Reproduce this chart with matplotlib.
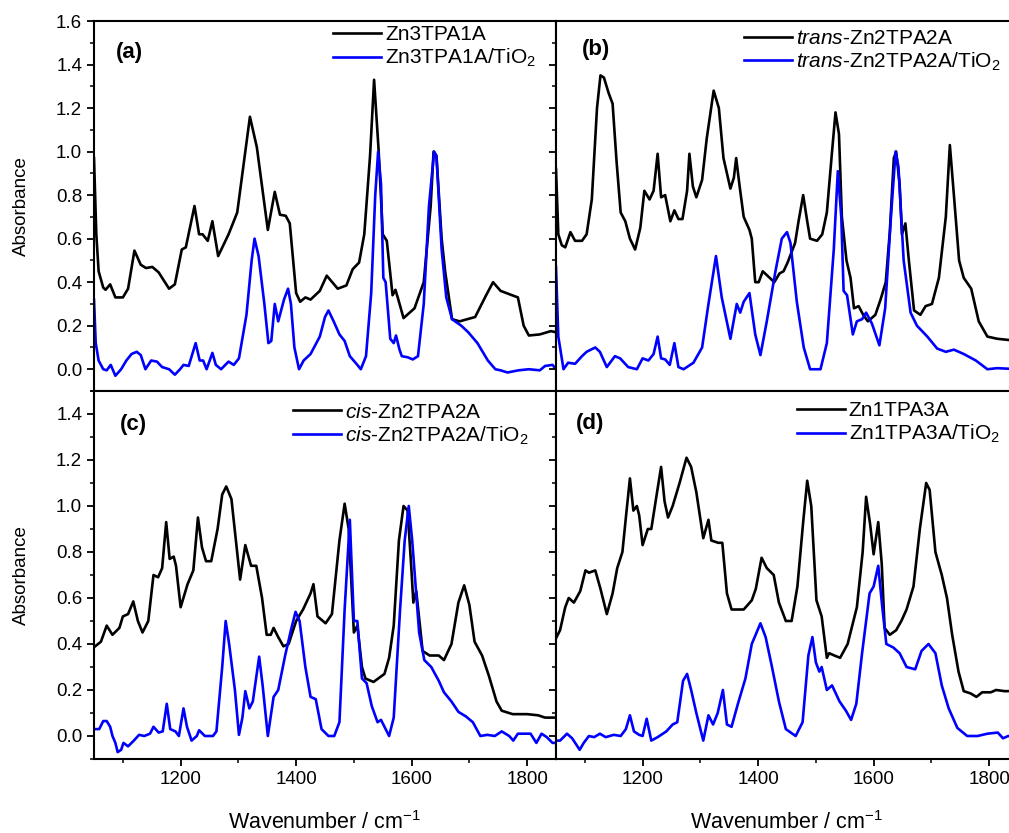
import matplotlib
matplotlib.use("Agg")
import matplotlib.pyplot as plt
from matplotlib.ticker import MultipleLocator

plt.rcParams["font.family"] = ["Liberation Sans", "DejaVu Sans"]
plt.rcParams["mathtext.fontset"] = "custom"
plt.rcParams["mathtext.rm"] = "Liberation Sans"
plt.rcParams["mathtext.it"] = "Liberation Sans:italic"
plt.rcParams["mathtext.bf"] = "Liberation Sans:bold"

# ---- (a) Zn3TPA1A ----
a_wn_film = [1050, 1054, 1058, 1066, 1070, 1078, 1087, 1100, 1109, 1120, 1131, 1140, 1151, 1162,
             1180, 1190, 1202, 1209, 1224, 1232, 1238, 1247, 1255, 1265, 1283, 1298, 1320, 1332,
             1351, 1363, 1372, 1382, 1389, 1400, 1407, 1416, 1425, 1441, 1453, 1472, 1487, 1498,
             1509, 1518, 1528, 1535, 1543, 1550, 1557, 1567, 1572, 1577, 1586, 1605, 1621, 1633,
             1638, 1643, 1652, 1658, 1670, 1683, 1710, 1729, 1741, 1754, 1769, 1784, 1794, 1803,
             1822, 1841, 1850]
a_abs_film = [0.97, 0.62, 0.45, 0.375, 0.365, 0.39, 0.33, 0.33, 0.37, 0.545, 0.48, 0.465, 0.47, 0.445,
              0.37, 0.39, 0.55, 0.56, 0.75, 0.62, 0.62, 0.59, 0.68, 0.52, 0.62, 0.72, 1.16, 1.02,
              0.64, 0.815, 0.71, 0.705, 0.67, 0.35, 0.31, 0.33, 0.32, 0.36, 0.43, 0.37, 0.385, 0.46,
              0.49, 0.62, 0.98, 1.33, 1.0, 0.62, 0.59, 0.34, 0.365, 0.32, 0.235, 0.28, 0.40, 0.75,
              1.0, 0.98, 0.6, 0.45, 0.23, 0.22, 0.24, 0.34, 0.40, 0.36, 0.345, 0.33, 0.20, 0.155,
              0.16, 0.175, 0.17]
a_wn_tio2 = [1050, 1053, 1058, 1066, 1072, 1079, 1087, 1097, 1106, 1115, 1124, 1131, 1139, 1149,
             1159, 1168, 1180, 1190, 1199, 1205, 1214, 1226, 1233, 1239, 1245, 1255, 1261, 1270,
             1283, 1292, 1301, 1314, 1323, 1328, 1335, 1345, 1352, 1357, 1363, 1369, 1379, 1386,
             1391, 1397, 1405, 1413, 1425, 1441, 1450, 1456, 1465, 1475, 1484, 1493, 1506, 1512,
             1521, 1530, 1537, 1542, 1547, 1551, 1555, 1563, 1569, 1573, 1579, 1583, 1593, 1602,
             1611, 1621, 1630, 1639, 1643, 1652, 1660, 1670, 1686, 1698, 1714, 1732, 1745, 1754,
             1766, 1785, 1803, 1822, 1831, 1844, 1850]
a_abs_tio2 = [0.32, 0.12, 0.04, 0.0, -0.005, 0.02, -0.03, 0.0, 0.04, 0.07, 0.08, 0.065, 0.0, 0.04,
              0.035, 0.01, 0.0, -0.025, 0.0, 0.02, 0.015, 0.12, 0.04, 0.04, 0.0, 0.075, 0.02, 0.0,
              0.035, 0.02, 0.05, 0.25, 0.5, 0.6, 0.52, 0.3, 0.12, 0.13, 0.30, 0.22, 0.32, 0.37,
              0.30, 0.1, 0.0, 0.04, 0.07, 0.15, 0.24, 0.27, 0.22, 0.16, 0.13, 0.06, 0.02, 0.0,
              0.06, 0.35, 0.8, 1.0, 0.85, 0.42, 0.40, 0.14, 0.12, 0.155, 0.09, 0.06, 0.055, 0.045,
              0.06, 0.30, 0.75, 1.0, 0.98, 0.55, 0.33, 0.23, 0.2, 0.17, 0.12, 0.04, 0.0, -0.005,
              -0.015, -0.005, 0.0, -0.005, 0.015, 0.02, 0.0]

# ---- (b) trans-Zn2TPA2A ----
b_wn_film = [1050, 1054, 1060, 1066, 1075, 1083, 1095, 1103, 1112, 1121, 1127, 1133, 1141, 1148,
             1155, 1162, 1170, 1178, 1187, 1196, 1203, 1212, 1219, 1226, 1232, 1239, 1248, 1255,
             1262, 1269, 1277, 1281, 1287, 1293, 1303, 1311, 1323, 1332, 1340, 1352, 1358, 1362,
             1368, 1375, 1385, 1389, 1395, 1401, 1408, 1416, 1428, 1437, 1444, 1451, 1464, 1470,
             1478, 1485, 1490, 1502, 1511, 1519, 1528, 1534, 1540, 1545, 1553, 1560, 1566, 1574,
             1582, 1590, 1603, 1612, 1621, 1628, 1635, 1639, 1645, 1649, 1655, 1661, 1670, 1681,
             1690, 1701, 1713, 1725, 1732, 1739, 1748, 1756, 1769, 1782, 1797, 1814, 1850]
b_abs_film = [0.92, 0.62, 0.57, 0.56, 0.63, 0.59, 0.59, 0.62, 0.78, 1.20, 1.35, 1.34, 1.27, 1.22,
              0.95, 0.72, 0.68, 0.60, 0.55, 0.65, 0.82, 0.78, 0.82, 0.99, 0.79, 0.80, 0.68, 0.73,
              0.69, 0.69, 0.82, 0.99, 0.84, 0.79, 0.87, 1.06, 1.28, 1.20, 0.97, 0.83, 0.88, 0.97,
              0.84, 0.70, 0.64, 0.60, 0.40, 0.40, 0.45, 0.43, 0.40, 0.44, 0.45, 0.49, 0.58, 0.68,
              0.80, 0.68, 0.60, 0.59, 0.62, 0.72, 1.0, 1.18, 1.08, 0.70, 0.50, 0.42, 0.28, 0.29,
              0.25, 0.22, 0.25, 0.32, 0.40, 0.63, 0.97, 1.0, 0.85, 0.62, 0.67, 0.50, 0.27, 0.25,
              0.29, 0.30, 0.42, 0.70, 1.03, 0.80, 0.50, 0.42, 0.37, 0.22, 0.15, 0.14, 0.13]
b_wn_tio2 = [1050, 1054, 1063, 1071, 1083, 1095, 1103, 1118, 1126, 1138, 1152, 1161, 1175, 1190,
             1200, 1210, 1219, 1226, 1232, 1239, 1247, 1255, 1262, 1271, 1288, 1303, 1314, 1327,
             1337, 1352, 1363, 1369, 1375, 1385, 1395, 1404, 1415, 1430, 1441, 1450, 1456, 1467,
             1479, 1490, 1508, 1519, 1531, 1538, 1544, 1548, 1554, 1564, 1571, 1580, 1587, 1597,
             1610, 1620, 1630, 1638, 1643, 1652, 1664, 1675, 1693, 1710, 1725, 1739, 1756, 1777,
             1797, 1814, 1850]
b_abs_tio2 = [0.47, 0.15, 0.0, 0.03, 0.025, 0.06, 0.08, 0.10, 0.08, 0.01, 0.06, 0.05, 0.01, 0.0,
              0.05, 0.04, 0.07, 0.15, 0.05, 0.045, 0.02, 0.12, 0.01, 0.0, 0.03, 0.10, 0.30, 0.52,
              0.33, 0.14, 0.30, 0.26, 0.31, 0.35, 0.16, 0.065, 0.22, 0.45, 0.60, 0.63, 0.58, 0.31,
              0.10, 0.0, 0.0, 0.12, 0.55, 0.91, 0.70, 0.36, 0.34, 0.16, 0.22, 0.23, 0.26, 0.21,
              0.11, 0.28, 0.70, 1.0, 0.93, 0.50, 0.26, 0.20, 0.15, 0.095, 0.08, 0.09, 0.07, 0.04,
              0.0, 0.005, 0.0]

# ---- (c) cis-Zn2TPA2A ----
c_wn_film = [1047, 1062, 1072, 1082, 1094, 1100, 1109, 1118, 1126, 1134, 1144, 1153, 1161, 1168,
             1175, 1181, 1188, 1192, 1200, 1212, 1222, 1230, 1237, 1244, 1253, 1264, 1272, 1279,
             1288, 1297, 1303, 1312, 1322, 1331, 1341, 1349, 1356, 1361, 1369, 1378, 1387, 1400,
             1412, 1425, 1430, 1437, 1451, 1462, 1475, 1484, 1491, 1500, 1506, 1514, 1520, 1534,
             1553, 1561, 1569, 1578, 1586, 1593, 1599, 1603, 1608, 1619, 1631, 1647, 1656, 1669,
             1681, 1691, 1700, 1709, 1722, 1734, 1747, 1756, 1775, 1800, 1819, 1831, 1853]
c_abs_film = [0.38, 0.41, 0.48, 0.44, 0.47, 0.52, 0.53, 0.585, 0.5, 0.45, 0.50, 0.70, 0.69, 0.73,
              0.93, 0.77, 0.78, 0.74, 0.56, 0.66, 0.72, 0.95, 0.82, 0.76, 0.76, 0.9, 1.05, 1.085,
              1.03, 0.82, 0.68, 0.83, 0.74, 0.74, 0.60, 0.44, 0.44, 0.47, 0.43, 0.39, 0.40, 0.50,
              0.55, 0.62, 0.66, 0.52, 0.49, 0.53, 0.85, 1.01, 0.90, 0.45, 0.48, 0.30, 0.25, 0.235,
              0.27, 0.34, 0.48, 0.85, 1.0, 0.98, 0.75, 0.58, 0.63, 0.37, 0.35, 0.35, 0.33, 0.40,
              0.58, 0.655, 0.57, 0.41, 0.35, 0.26, 0.15, 0.11, 0.095, 0.095, 0.09, 0.08, 0.08]
c_wn_tio2 = [1047, 1059, 1066, 1072, 1078, 1082, 1087, 1091, 1097, 1101, 1109, 1119, 1128, 1137,
             1147, 1153, 1162, 1169, 1176, 1182, 1191, 1197, 1205, 1211, 1219, 1228, 1232, 1242,
             1256, 1262, 1272, 1278, 1284, 1294, 1301, 1307, 1312, 1319, 1325, 1336, 1342, 1351,
             1361, 1369, 1381, 1391, 1399, 1406, 1416, 1425, 1434, 1444, 1456, 1466, 1475, 1484,
             1493, 1500, 1506, 1514, 1522, 1531, 1541, 1547, 1561, 1569, 1580, 1588, 1595, 1601,
             1613, 1622, 1634, 1647, 1656, 1669, 1681, 1694, 1706, 1719, 1731, 1744, 1756, 1769,
             1776, 1784, 1806, 1816, 1825, 1834, 1844, 1853]
c_abs_tio2 = [0.03, 0.03, 0.065, 0.065, 0.04, 0.0, -0.03, -0.07, -0.06, -0.03, -0.045, -0.02, 0.005, 0.0,
              0.01, 0.04, 0.015, 0.02, 0.14, 0.03, 0.02, 0.0, 0.12, 0.04, -0.02, 0.0, 0.025, 0.0,
              0.0, 0.02, 0.3, 0.50, 0.40, 0.20, 0.005, 0.08, 0.195, 0.12, 0.15, 0.345, 0.22, 0.0,
              0.17, 0.20, 0.35, 0.46, 0.54, 0.50, 0.30, 0.17, 0.16, 0.03, 0.0, 0.0, 0.06, 0.55,
              0.94, 0.50, 0.50, 0.25, 0.23, 0.13, 0.06, 0.07, 0.0, 0.08, 0.55, 0.85, 1.0, 0.85,
              0.45, 0.33, 0.30, 0.24, 0.19, 0.15, 0.105, 0.085, 0.06, 0.0, 0.005, 0.0, 0.02, 0.0,
              -0.02, 0.01, 0.01, -0.03, 0.01, -0.005, -0.03, -0.03]

# ---- (d) Zn1TPA3A ----
d_wn_film = [1049, 1057, 1066, 1072, 1081, 1092, 1101, 1107, 1118, 1127, 1138, 1148, 1156, 1165,
             1171, 1178, 1184, 1190, 1194, 1200, 1209, 1215, 1225, 1232, 1238, 1244, 1252, 1264,
             1276, 1284, 1293, 1305, 1314, 1319, 1331, 1338, 1346, 1354, 1363, 1375, 1389, 1396,
             1406, 1415, 1427, 1436, 1448, 1458, 1468, 1478, 1485, 1492, 1501, 1510, 1519, 1523,
             1532, 1542, 1555, 1564, 1571, 1581, 1587, 1594, 1600, 1608, 1614, 1619, 1628, 1639,
             1648, 1657, 1669, 1680, 1691, 1697, 1707, 1718, 1727, 1736, 1747, 1756, 1768, 1778,
             1788, 1803, 1812, 1827, 1850]
d_abs_film = [0.42, 0.46, 0.56, 0.60, 0.58, 0.63, 0.72, 0.71, 0.72, 0.64, 0.53, 0.62, 0.73, 0.80,
              0.95, 1.12, 0.98, 1.0, 0.96, 0.83, 0.90, 0.90, 1.06, 1.17, 1.02, 0.95, 1.0, 1.10,
              1.21, 1.17, 1.06, 0.86, 0.94, 0.85, 0.84, 0.84, 0.62, 0.55, 0.55, 0.55, 0.59, 0.64,
              0.775, 0.73, 0.70, 0.58, 0.50, 0.50, 0.65, 0.93, 1.11, 1.0, 0.59, 0.52, 0.34, 0.36,
              0.35, 0.34, 0.40, 0.49, 0.56, 0.80, 1.04, 0.92, 0.79, 0.93, 0.75, 0.47, 0.44, 0.46,
              0.50, 0.55, 0.65, 0.90, 1.10, 1.07, 0.80, 0.70, 0.60, 0.44, 0.28, 0.195, 0.185, 0.17,
              0.19, 0.19, 0.20, 0.195, 0.195]
d_wn_tio2 = [1049, 1057, 1069, 1078, 1091, 1098, 1107, 1116, 1126, 1136, 1150, 1162, 1171, 1178,
             1185, 1194, 1200, 1207, 1215, 1226, 1241, 1252, 1260, 1270, 1277, 1284, 1293, 1305,
             1314, 1322, 1330, 1339, 1346, 1354, 1365, 1378, 1389, 1404, 1413, 1424, 1436, 1448,
             1465, 1477, 1487, 1494, 1500, 1506, 1510, 1519, 1528, 1541, 1552, 1561, 1570, 1580,
             1593, 1600, 1608, 1615, 1622, 1634, 1645, 1657, 1672, 1683, 1695, 1707, 1718, 1730,
             1745, 1762, 1780, 1797, 1815, 1824, 1833, 1850]
d_abs_tio2 = [-0.02, -0.02, 0.01, -0.01, -0.06, -0.03, 0.0, -0.005, 0.01, -0.005, 0.005, 0.0, 0.03, 0.09,
              0.02, 0.005, 0.0, 0.075, -0.02, -0.005, 0.02, 0.05, 0.06, 0.24, 0.27, 0.20, 0.10, -0.02,
              0.09, 0.05, 0.10, 0.20, 0.05, 0.04, 0.14, 0.25, 0.40, 0.49, 0.43, 0.30, 0.15, 0.03,
              0.0, 0.06, 0.35, 0.43, 0.32, 0.28, 0.30, 0.20, 0.22, 0.15, 0.11, 0.07, 0.14, 0.36,
              0.62, 0.65, 0.74, 0.56, 0.40, 0.385, 0.36, 0.30, 0.29, 0.37, 0.40, 0.36, 0.22, 0.12,
              0.035, 0.0, 0.0, 0.01, 0.015, -0.01, 0.0, -0.01]

panels = [
    ("(a)", "Zn3TPA1A", "Zn3TPA1A/TiO$_2$",
     a_wn_film, a_abs_film, a_wn_tio2, a_abs_tio2),
    ("(b)", r"$\mathit{trans}$-Zn2TPA2A", r"$\mathit{trans}$-Zn2TPA2A/TiO$_2$",
     b_wn_film, b_abs_film, b_wn_tio2, b_abs_tio2),
    ("(c)", r"$\mathit{cis}$-Zn2TPA2A", r"$\mathit{cis}$-Zn2TPA2A/TiO$_2$",
     c_wn_film, c_abs_film, c_wn_tio2, c_abs_tio2),
    ("(d)", "Zn1TPA3A", "Zn1TPA3A/TiO$_2$",
     d_wn_film, d_abs_film, d_wn_tio2, d_abs_tio2),
]

W, H = 1009, 833
fig = plt.figure(figsize=(W / 100, H / 100), dpi=100)

pw = 462 / W
lefts = [94 / W, 556 / W]
rows = [(1 - 391 / H, 370 / H), (1 - 759 / H, 368 / H)]
legend_pos = [(0.517, 0.988), (0.407, 0.978), (0.43, 0.968), (0.521, 0.972)]
tag_pos = [(0.048, 0.914), (0.055, 0.922), (0.055, 0.908), (0.043, 0.913)]

for i, (tag, lab1, lab2, x1, y1, x2, y2) in enumerate(panels):
    r, c = divmod(i, 2)
    bottom, height = rows[r]
    ax = fig.add_axes([lefts[c], bottom, pw, height])
    ax.plot(x1, y1, color="black", lw=1.9, label=lab1)
    ax.plot(x2, y2, color="#0000ff", lw=1.9, label=lab2)
    ax.set_xlim(1050, 1850)
    if r == 0:
        ax.set_ylim(-0.1, 1.6)
    else:
        ax.set_ylim(-0.1, 1.5)
    ax.xaxis.set_major_locator(MultipleLocator(200))
    ax.xaxis.set_minor_locator(MultipleLocator(100))
    ax.yaxis.set_major_locator(MultipleLocator(0.2))
    ax.yaxis.set_minor_locator(MultipleLocator(0.1))
    ax.tick_params(which="major", direction="out", length=5, width=1.3, labelsize=13.5)
    ax.tick_params(which="minor", direction="out", length=3, width=1.1)
    for s in ax.spines.values():
        s.set_linewidth(1.5)
    if c == 1:
        ax.tick_params(labelleft=False)
    else:
        ax.set_ylabel("Absorbance", fontsize=13.5, va="center")
        ax.yaxis.set_label_coords(-73 / 462, 0.5)
    if r == 0:
        ax.tick_params(labelbottom=False)
    else:
        ax.set_xlabel("Wavenumber / cm$^{-1}$", fontsize=15.5, va="baseline")
        ax.xaxis.set_label_coords(0.5, -(829 - 759) / 368)
    ax.text(tag_pos[i][0], tag_pos[i][1], tag, transform=ax.transAxes, fontsize=16,
            fontweight="bold", va="center", ha="left")
    ax.legend(loc="upper left", bbox_to_anchor=legend_pos[i],
              frameon=False, fontsize=15, handlelength=2.3, handletextpad=0.2,
              labelspacing=0.12, borderpad=0, borderaxespad=0)

fig.savefig("out.png", dpi=100)
